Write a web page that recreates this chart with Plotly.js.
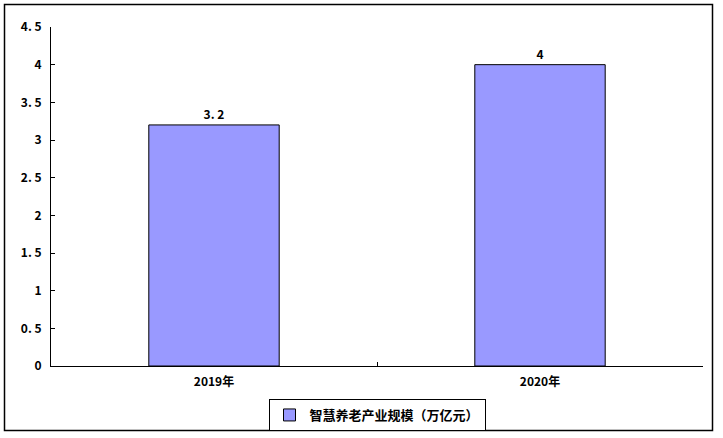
<!DOCTYPE html>
<html><head><meta charset="utf-8">
<script src="https://cdn.plot.ly/plotly-3.0.1.min.js"></script>
<style>body{margin:0;background:#fff}#c{width:723px;height:438px}</style>
</head><body><div id="c"></div>
<script>
const categories = ['2019年', '2020年'];
const values = [3.2, 4];
const valueLabels = ['3. 2', '4'];
const seriesName = '智慧养老产业规模（万亿元）';
const yTickVals = [0, 0.5, 1, 1.5, 2, 2.5, 3, 3.5, 4, 4.5];
const yTickText = ['0', '0. 5', '1', '1. 5', '2', '2. 5', '3', '3. 5', '4', '4. 5'];

const W = 723, H = 438, L = 51, R = 20, T = 27, B = 72;
const pw = W - L - R, ph = H - T - B;
const px = v => (v - L) / pw, py = v => (H - B - v) / ph;
const font = "'Noto Sans CJK SC', 'DejaVu Sans', sans-serif";

Plotly.newPlot('c', [{
  type: 'bar', x: categories, y: values, name: seriesName,
  text: valueLabels, textposition: 'outside', cliponaxis: false,
  textfont: {family: font, size: 12, color: '#000', weight: 'bold'},
  marker: {color: '#9999FF', line: {color: '#000', width: 1}},
  showlegend: true, hoverinfo: 'none'
}], {
  width: W, height: H,
  margin: {l: L, r: R, t: T, b: B, autoexpand: false},
  paper_bgcolor: '#fff', plot_bgcolor: '#fff',
  bargap: 0.6,
  font: {family: font, size: 12, color: '#000', weight: 'bold'},
  xaxis: {showline: true, linecolor: '#000', linewidth: 1, ticks: 'inside', ticklen: 4,
    tickson: 'boundaries', tickcolor: '#000', showgrid: false, zeroline: false,
    ticklabelstandoff: 5,
    tickfont: {family: font, size: 12, weight: 'bold'}, automargin: false},
  yaxis: {range: [0, 4.5], tickvals: yTickVals, ticktext: yTickText, showline: true,
    linecolor: '#000', linewidth: 1, ticks: 'inside', ticklen: 4, tickcolor: '#000',
    showgrid: false, zeroline: false, ticklabelstandoff: 6, automargin: false,
    tickfont: {family: font, size: 12, weight: 'bold'}},
  showlegend: true,
  legend: {x: 0.5, xanchor: 'center', y: py(415), yanchor: 'middle', orientation: 'h',
    bordercolor: '#000', borderwidth: 1, bgcolor: '#fff', itemwidth: 30,
    font: {family: font, size: 13, weight: 'bold'}},
  shapes: [{type: 'rect', xref: 'paper', yref: 'paper', x0: px(4.5), x1: px(712.5),
    y0: py(430.5), y1: py(4.5), line: {color: '#000', width: 1.5}, layer: 'below'}]
}, {staticPlot: true});
</script></body></html>
